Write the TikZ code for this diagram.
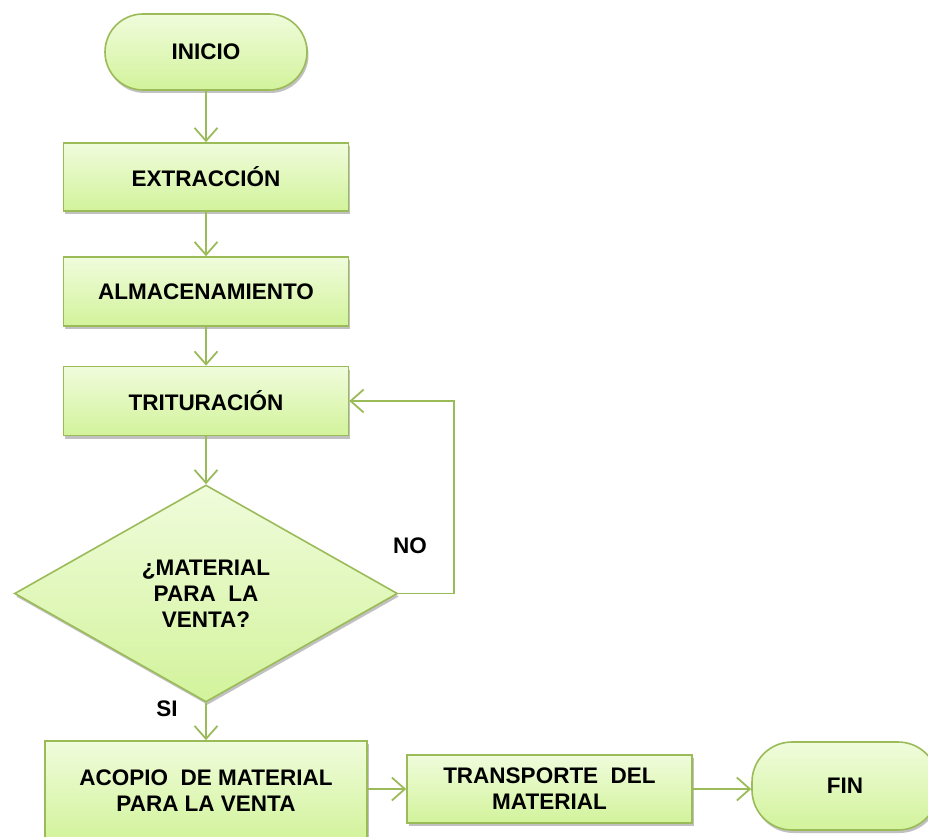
\documentclass[tikz,border=0pt]{standalone}
\usepackage{fontspec}
\setmainfont{Liberation Sans}
\usetikzlibrary{arrows.meta,shapes.geometric,shadows}

\definecolor{edgegreen}{RGB}{155,187,89}
\definecolor{filltop}{RGB}{240,252,220}
\definecolor{fillbot}{RGB}{210,243,155}

\tikzset{
  blocktext/.style={font=\bfseries\fontsize{22.5}{26}\selectfont, align=center, text=black},
  shaded/.style={draw=edgegreen, line width=1.6pt, top color=filltop, bottom color=fillbot,
    drop shadow={shadow xshift=1.5pt, shadow yshift=-3pt, opacity=0.35, fill=black!70}},
  procbox/.style={shaded, blocktext, rectangle, inner sep=0pt},
  terminal/.style={shaded, blocktext, rectangle, inner sep=0pt},
  decision/.style={shaded, blocktext, diamond, inner sep=0pt, aspect=1.765},
  flow/.style={draw=edgegreen, line width=1.8pt,
    -{Straight Barb[length=13pt,width=23pt,line width=1.8pt]}},
  tag/.style={font=\bfseries\fontsize{22.5}{26}\selectfont, text=black}
}

\begin{document}
\begin{tikzpicture}[x=1pt,y=-1pt]
  \useasboundingbox (0,0) rectangle (928,837);

  % start / end terminals
  \node[terminal, rounded corners=38pt, minimum width=202pt, minimum height=76pt]
    (inicio) at (206,52) {INICIO};

  % process steps
  \node[procbox, minimum width=285pt, minimum height=68pt] (extr) at (206,177) {EXTRACCIÓN};
  \node[procbox, minimum width=285pt, minimum height=69pt] (alm) at (206,291.5) {ALMACENAMIENTO};
  \node[procbox, minimum width=285pt, minimum height=69pt] (trit) at (206,401) {TRITURACIÓN};

  % decision
  \node[decision, minimum width=383pt, minimum height=217pt] (dec) at (206,593.5)
    {¿MATERIAL\\PARA\ \ LA\\VENTA?};

  % bottom row
  \node[procbox, minimum width=322pt, minimum height=99pt] (acopio) at (206,790.5)
    {ACOPIO\ \ DE MATERIAL\\PARA LA VENTA};
  \node[procbox, minimum width=285pt, minimum height=68pt] (trans) at (549.5,789)
    {TRANSPORTE\ \ DEL\\MATERIAL};
  \node[terminal, rounded corners=40pt, minimum width=186pt, minimum height=88pt]
    (fin) at (845,786) {FIN};

  % loop-back corner
  \coordinate (loop) at (454,593.5);

  % connectors
  \draw[flow] (inicio) -- (extr);
  \draw[flow] (extr) -- (alm);
  \draw[flow] (alm) -- (trit);
  \draw[flow] (trit) -- (dec);
  \draw[flow] (dec) -- (acopio);
  \draw[flow] (dec.east) -- (loop) |- (trit.east);
  \draw[flow] (acopio.east |- trans.west) -- (trans.west);
  \draw[flow] (trans.east) -- (fin.west |- trans.east);

  % branch labels
  \node[tag] (no) at (410,546) {NO};
  \node[tag] (si) at (167,709) {SI};
\end{tikzpicture}
\end{document}
